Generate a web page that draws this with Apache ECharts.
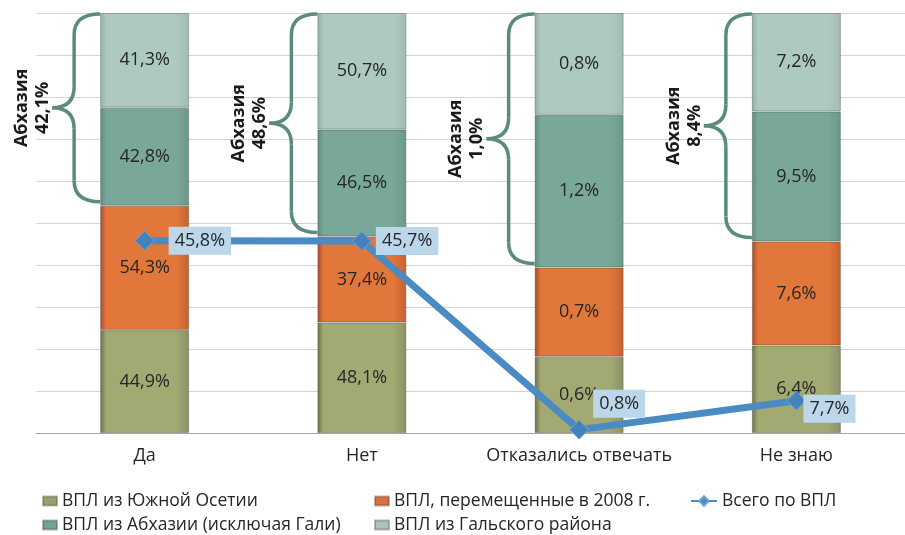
<!DOCTYPE html>
<html>
<head>
<meta charset="utf-8">
<script src="https://cdn.jsdelivr.net/npm/echarts@6/dist/echarts.min.js"></script>
<style>
html,body{margin:0;padding:0;background:#fff;}
#main{width:905px;height:535px;}
#err{position:absolute;left:300px;top:0;color:red;font:12px monospace;}
</style>
</head>
<body>
<div id="main"></div>
<div id="err"></div>
<script>
// ---- data ----
var categories = ['Да', 'Нет', 'Отказались отвечать', 'Не знаю'];
var southOssetia = [44.9, 48.1, 0.6, 6.4];      // ВПЛ из Южной Осетии
var displaced2008 = [54.3, 37.4, 0.7, 7.6];     // ВПЛ, перемещенные в 2008 г.
var abkhaziaExGali = [42.8, 46.5, 1.2, 9.5];    // ВПЛ из Абхазии (исключая Гали)
var galiDistrict = [41.3, 50.7, 0.8, 7.2];      // ВПЛ из Гальского района
var totalIDP = [45.8, 45.7, 0.8, 7.7];          // Всего по ВПЛ
var abkhaziaTotal = [42.1, 48.6, 1.0, 8.4];     // Абхазия (brace annotation)
var braceLabel = 'Абхазия';
var seriesNames = ['ВПЛ из Южной Осетии', 'ВПЛ, перемещенные в 2008 г.', 'ВПЛ из Абхазии (исключая Гали)', 'ВПЛ из Гальского района', 'Всего по ВПЛ'];

function showErr(e) { document.getElementById('err').textContent += ' ' + (e && e.stack ? e.stack.slice(0, 300) : e); }

// ---- helpers ----
var FONT = '"Open Sans", "Noto Sans", sans-serif';
function fmt(v) { return v.toFixed(1).replace('.', ',') + '%'; }
var raw = [southOssetia, displaced2008, abkhaziaExGali, galiDistrict];
var totals = categories.map(function (c, i) {
  return raw.reduce(function (s, arr) { return s + arr[i]; }, 0);
});
function share(arr) { return arr.map(function (v, i) { return v / totals[i] * 100; }); }

function grad(edgeL, mid, edgeR) {
  return {
    type: 'linear', x: 0, y: 0, x2: 1, y2: 0,
    colorStops: [
      { offset: 0, color: edgeL },
      { offset: 0.07, color: mid },
      { offset: 0.85, color: mid },
      { offset: 1, color: edgeR }
    ]
  };
}
var colors = [
  grad('#6a7142', '#a3a973', '#8a9062'),
  grad('#a9482a', '#e2773b', '#c6622f'),
  grad('#5e8b7d', '#79a79a', '#6a998b'),
  grad('#8fb1a8', '#aec9c2', '#a0bdb5')
];
var legendColors = ['#9aa06c', '#dd7038', '#74a395', '#a9c6be', '#4a8bc4'];

function barSeries(k) {
  return {
    name: seriesNames[k],
    type: 'bar',
    stack: 'total',
    barWidth: 89,
    data: share(raw[k]),
    itemStyle: { color: colors[k], borderColor: 'rgba(60,60,60,0.35)', borderWidth: 1 },
    label: {
      show: true,
      position: 'inside',
      color: '#262626',
      fontFamily: FONT,
      fontSize: 18,
      formatter: function (p) { return fmt(raw[k][p.dataIndex]); }
    },
    emphasis: { disabled: true },
    z: 2
  };
}

var lineOffsets = [[14, 0], [4, 0], [4, -26], [-3, 8]];

function legendFor(k, left, top) {
  var isLine = k === 4;
  return {
    data: [{ name: seriesNames[k], itemStyle: { color: legendColors[k] } }],
    left: left, top: top,
    itemWidth: isLine ? 26 : 14, itemHeight: isLine ? 12 : 9,
    icon: isLine ? undefined : 'rect',
    padding: 0,
    selectedMode: false,
    textStyle: { fontFamily: FONT, fontSize: 17.5, color: '#262626' }
  };
}

var chart = echarts.init(document.getElementById('main'), null, { renderer: 'canvas' });
var option = {
  animation: false,
  backgroundColor: '#ffffff',
  color: legendColors,
  grid: { left: 36, right: -7, top: 13, bottom: 102, containLabel: false },
  legend: [
    legendFor(0, 42, 492),
    legendFor(2, 42, 516),
    legendFor(1, 374, 492),
    legendFor(3, 374, 516),
    legendFor(4, 690, 492)
  ],
  xAxis: {
    type: 'category',
    data: categories,
    axisTick: { show: false },
    axisLine: { lineStyle: { color: '#a6a6a6', width: 1 } },
    axisLabel: { interval: 0, fontFamily: FONT, fontSize: 18, color: '#262626', margin: 14 }
  },
  yAxis: {
    type: 'value',
    min: 0, max: 100, interval: 10,
    axisLabel: { show: false },
    axisLine: { show: false },
    axisTick: { show: false },
    splitLine: { lineStyle: { color: '#d4d4d4', width: 1 } }
  },
  series: [
    barSeries(0), barSeries(1), barSeries(2), barSeries(3),
    {
      name: seriesNames[4],
      type: 'line',
      data: totalIDP.map(function (v, i) {
        return { value: v, label: { offset: lineOffsets[i] } };
      }),
      symbol: 'diamond',
      symbolSize: 19,
      lineStyle: { color: '#4a8bc4', width: 7 },
      itemStyle: { color: '#4582bb', borderColor: '#6ea3d3', borderWidth: 1 },
      label: {
        show: true,
        position: 'right',
        distance: 0,
        backgroundColor: '#bcd6ea',
        padding: [6, 6, 4, 6],
        color: '#262626',
        fontFamily: FONT,
        fontSize: 18,
        formatter: function (p) { return fmt(totalIDP[p.dataIndex]); }
      },
      emphasis: { disabled: true },
      z: 5
    }
  ]
};
try { chart.setOption(option); } catch (e) { showErr(e); }

// ---- braces with "Абхазия" annotation, anchored to the Abkhazia segments ----
try {
  var graphics = [];
  var s0 = share(southOssetia), s1 = share(displaced2008);
  var braceStyle = { stroke: '#5b8b7c', lineWidth: 3.5, fill: null };
  categories.forEach(function (c, i) {
    var pTop = chart.convertToPixel({ gridIndex: 0 }, [i, 100]);
    var pBot = chart.convertToPixel({ gridIndex: 0 }, [i, s0[i] + s1[i]]);
    var xR = pTop[0] - 44.5;
    var yT = pTop[1] + 1, yB = pBot[1] - 4;
    var yM = (yT + yB) / 2;
    var xV = xR - 26, xTip = xR - 48;
    var r = 21;
    var parts = [
      { type: 'bezierCurve', shape: { x1: xR, y1: yT, cpx1: xV, cpy1: yT, x2: xV, y2: yT + r } },
      { type: 'line', shape: { x1: xV, y1: yT + r, x2: xV, y2: yM - r } },
      { type: 'bezierCurve', shape: { x1: xV, y1: yM - r, cpx1: xV, cpy1: yM, x2: xTip, y2: yM } },
      { type: 'bezierCurve', shape: { x1: xTip, y1: yM, cpx1: xV, cpy1: yM, x2: xV, y2: yM + r } },
      { type: 'line', shape: { x1: xV, y1: yM + r, x2: xV, y2: yB - r } },
      { type: 'bezierCurve', shape: { x1: xV, y1: yB - r, cpx1: xV, cpy1: yB, x2: xR, y2: yB } }
    ];
    parts.forEach(function (p) {
      p.style = braceStyle;
      p.z = 10;
      p.silent = true;
      graphics.push(p);
    });
    graphics.push({
      type: 'text',
      x: xTip - 20,
      y: yM,
      rotation: Math.PI / 2,
      silent: true,
      style: {
        text: braceLabel + '\n' + fmt(abkhaziaTotal[i]),
        font: 'bold 18px ' + FONT,
        lineHeight: 21,
        fill: '#1a1a1a',
        align: 'center',
        verticalAlign: 'middle'
      },
      z: 10
    });
  });
  chart.setOption({ graphic: graphics });
} catch (e) { showErr(e); }
</script>
</body>
</html>
